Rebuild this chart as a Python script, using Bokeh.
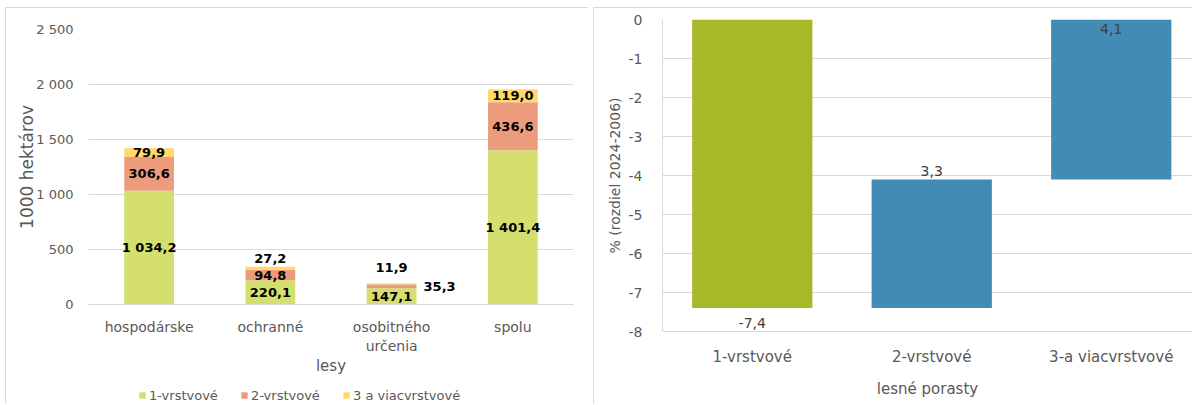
from bokeh.plotting import figure
from bokeh.models import (ColumnDataSource, FactorRange, Range1d, FixedTicker,
                          Legend, LegendItem, LabelSet)
from bokeh.layouts import row, column
from bokeh.embed import file_html
from bokeh.resources import INLINE
from bokeh.core.properties import value

FONT = "DejaVu Sans"
GRID = "#D9D9D9"
TICK_COL = "#595959"
PANEL_CSS = {
    "background-image": "linear-gradient(#D9D9D9, #D9D9D9), linear-gradient(#D9D9D9, #D9D9D9)",
    "background-position": "5px 7px, 5px 7px",
    "background-size": "1px 100%, 100% 1px",
    "background-repeat": "no-repeat, no-repeat",
}
SIDE_CSS = {
    "background-image": "linear-gradient(#D9D9D9, #D9D9D9)",
    "background-position": "5px 0px",
    "background-size": "1px 100%",
    "background-repeat": "no-repeat",
}

# ---------------- data ----------------
forest_types = ["hospodárske", "ochranné", "osobitného\nurčenia", "spolu"]
layer_names = ["1-vrstvové", "2-vrstvové", "3 a viacvrstvové"]
one_layer = [1034.2, 220.1, 147.1, 1401.4]
two_layer = [306.6, 94.8, 35.3, 436.6]
multi_layer = [79.9, 27.2, 11.9, 119.0]
area_ticks = [0, 500, 1000, 1500, 2000, 2500]

stand_types = ["1-vrstvové", "2-vrstvové", "3-a viacvrstvové"]
stand_change = [-7.4, 3.3, 4.1]
change_ticks = [0, -1, -2, -3, -4, -5, -6, -7, -8]

# label / legend placement tweaks (screen px)
top_label_lift = [0, 10, 16, 0]
mid_label_shift = [0, 0, 48, 0]
change_label_offset = [-15, 8, -9]
legend_left = [138, 240, 342]


def sk_num(v, dec=1):
    s = f"{v:,.{dec}f}"
    return s.replace(",", " ").replace(".", ",")


layer_colors = ["#D4DF6F", "#EC9C7D", "#FFDA68"]
src = ColumnDataSource(dict(cat=forest_types, l1=one_layer, l2=two_layer, l3=multi_layer))

# ---------------- left chart ----------------
p1 = figure(x_range=FactorRange(factors=forest_types, range_padding=0),
            y_range=Range1d(0, 2500), width=588, height=380,
            output_backend="svg", toolbar_location=None,
            min_border_left=88, min_border_right=15,
            min_border_top=29, min_border_bottom=76)
p1.frame_align = False
p1.border_fill_alpha = 0
p1.styles = PANEL_CSS
p1.outline_line_color = None

rs = p1.vbar_stack(["l1", "l2", "l3"], x="cat", width=0.41, fill_color=layer_colors,
                   line_color=None, source=src)

c1 = [a / 2 for a in one_layer]
c2 = [a + b / 2 for a, b in zip(one_layer, two_layer)]
c3 = [a + b + c / 2 for a, b, c in zip(one_layer, two_layer, multi_layer)]
lab_src = ColumnDataSource(dict(
    cat=forest_types,
    y1=c1, y2=c2, y3=c3,
    t1=[sk_num(v) for v in one_layer],
    t2=[sk_num(v) for v in two_layer],
    t3=[sk_num(v) for v in multi_layer],
    dx2=mid_label_shift, dy3=top_label_lift,
    zero=[0] * len(forest_types),
))
for ycol, tcol, dx, dy in [("y1", "t1", "zero", "zero"), ("y2", "t2", "dx2", "zero"),
                           ("y3", "t3", "zero", "dy3")]:
    p1.add_layout(LabelSet(x="cat", y=ycol, text=tcol, source=lab_src,
                           x_offset=dx, y_offset=dy,
                           text_align="center", text_baseline="middle",
                           text_font=value(FONT), text_font_size="13px",
                           text_font_style="bold", text_color="#000000"))

p1.xgrid.grid_line_color = None
p1.ygrid.grid_line_color = GRID
p1.ygrid.grid_line_width = 1
p1.yaxis.ticker = FixedTicker(ticks=area_ticks)
p1.yaxis.major_label_overrides = {t: sk_num(t, 0) for t in area_ticks}
for ax in (p1.xaxis[0], p1.yaxis[0]):
    ax.major_tick_line_color = None
    ax.minor_tick_line_color = None
    ax.major_tick_out = 0
    ax.major_tick_in = 0
    ax.major_label_text_font = FONT
    ax.major_label_text_color = TICK_COL
    ax.axis_label_text_font = FONT
    ax.axis_label_text_color = TICK_COL
    ax.axis_label_text_font_style = "normal"
p1.yaxis.axis_line_color = None
p1.xaxis.axis_line_color = GRID
p1.yaxis.major_label_text_font_size = "13px"
p1.yaxis.major_label_standoff = 15
p1.yaxis.axis_label = "1000 hektárov"
p1.yaxis.axis_label_text_font_size = "17px"
p1.yaxis.axis_label_standoff = -4
p1.xaxis.major_label_text_font_size = "14px"
p1.xaxis.major_label_standoff = 14
p1.xaxis.axis_label = "lesy"
p1.xaxis.axis_label_text_font_size = "15px"
p1.xaxis.axis_label_standoff = 0

# ---------------- legend strip under the left chart ----------------
pl = figure(x_range=FactorRange(factors=forest_types), y_range=Range1d(-2, -1),
            width=588, height=24, output_backend="svg", toolbar_location=None,
            min_border=0, min_border_left=0, min_border_right=0,
            min_border_top=0, min_border_bottom=0)
pl.frame_align = False
pl.axis.visible = False
pl.grid.visible = False
pl.outline_line_color = None
pl.border_fill_alpha = 0
pl.background_fill_alpha = 0
pl.styles = SIDE_CSS
rs_leg = pl.vbar_stack(["l1", "l2", "l3"], x="cat", width=0.41, fill_color=layer_colors,
                       line_color=None, source=src)
for r in rs_leg:
    r.visible = False
for name, r, lx in zip(layer_names, rs_leg, legend_left):
    pl.add_layout(Legend(items=[LegendItem(label=name, renderers=[r])],
                         location=(lx, 1), orientation="horizontal",
                         glyph_width=8, glyph_height=8, label_standoff=3,
                         label_height=16, padding=0, margin=0, spacing=0,
                         border_line_color=None, background_fill_alpha=0,
                         inactive_fill_alpha=0,
                         label_text_font=FONT, label_text_font_size="13px",
                         label_text_color=TICK_COL))

# ---------------- right chart ----------------
starts, ends = [], []
run = 0.0
for v in stand_change:
    starts.append(run)
    run = round(run + v, 6)
    ends.append(run)
xs = [i + 0.5 for i in range(len(stand_types))]
bar_colors = ["#A7B928" if v < 0 else "#428BB4" for v in stand_change]

p2 = figure(x_range=Range1d(0, 530 / 179.5), y_range=Range1d(-8, 0),
            width=604, height=404, output_backend="svg", toolbar_location=None,
            min_border_left=74, min_border_right=0,
            min_border_top=19, min_border_bottom=73)
p2.frame_align = False
p2.border_fill_alpha = 0
p2.styles = PANEL_CSS
p2.outline_line_color = None

src2 = ColumnDataSource(dict(x=xs, bottom=starts, top=ends, color=bar_colors,
                             lab=[sk_num(v) for v in stand_change],
                             dy=change_label_offset))
p2.vbar(x="x", bottom="bottom", top="top", width=0.67, fill_color="color",
        line_color=None, source=src2)
p2.add_layout(LabelSet(x="x", y="top", text="lab", source=src2, y_offset="dy",
                       text_align="center", text_baseline="middle",
                       text_font=value(FONT), text_font_size="14px", text_color="#404040"))

p2.xgrid.grid_line_color = None
p2.ygrid.grid_line_color = GRID
p2.yaxis.ticker = FixedTicker(ticks=change_ticks)
p2.yaxis.major_label_overrides = {t: str(t) for t in change_ticks}
p2.xaxis.ticker = FixedTicker(ticks=xs)
p2.xaxis.major_label_overrides = {x: n for x, n in zip(xs, stand_types)}
for ax in (p2.xaxis[0], p2.yaxis[0]):
    ax.major_tick_line_color = None
    ax.minor_tick_line_color = None
    ax.major_tick_out = 0
    ax.major_tick_in = 0
    ax.axis_line_color = GRID
    ax.major_label_text_font = FONT
    ax.major_label_text_color = TICK_COL
    ax.axis_label_text_font = FONT
    ax.axis_label_text_color = TICK_COL
    ax.axis_label_text_font_style = "normal"
p2.yaxis.major_label_text_font_size = "14px"
p2.yaxis.major_label_standoff = 20
p2.yaxis.axis_label = "% (rozdiel 2024-2006)"
p2.yaxis.axis_label_text_font_size = "14px"
p2.yaxis.axis_label_standoff = 3
p2.xaxis.major_label_text_font_size = "15px"
p2.xaxis.major_label_standoff = 16
p2.xaxis.axis_label = "lesné porasty"
p2.xaxis.axis_label_text_font_size = "15px"
p2.xaxis.axis_label_standoff = 11

layout = row(column(p1, pl, spacing=0), p2, spacing=0)
open("out.html", "w").write(file_html(layout, INLINE))
